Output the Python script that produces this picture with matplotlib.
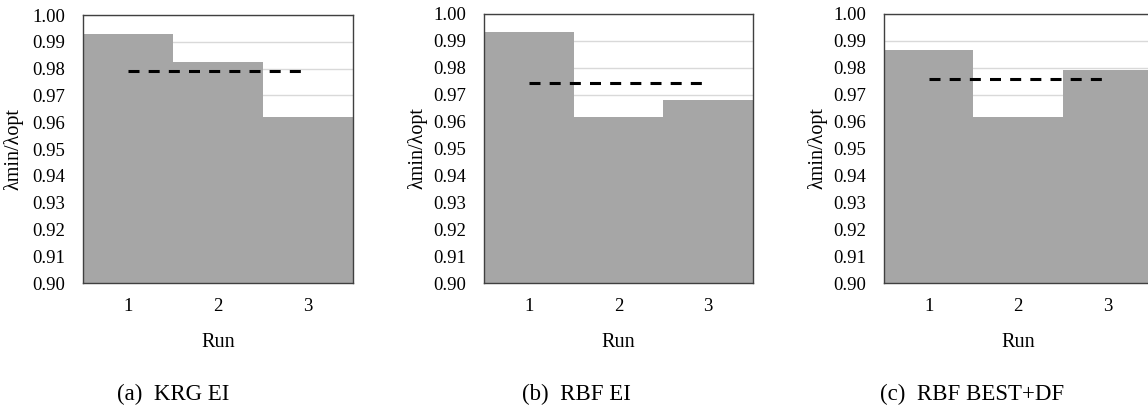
import matplotlib
matplotlib.use("Agg")
import matplotlib.pyplot as plt
import numpy as np

plt.rcParams['font.family'] = ['Liberation Serif', 'DejaVu Serif']

runs = ["1", "2", "3"]
krg_ei = [0.9928, 0.9826, 0.9620]
rbf_ei = [0.9934, 0.9616, 0.9680]
rbf_best_df = [0.9866, 0.9616, 0.9792]
series = [krg_ei, rbf_ei, rbf_best_df]
captions = ["(a)  KRG EI", "(b)  RBF EI", "(c)  RBF BEST+DF"]
yticks = [0.90, 0.91, 0.92, 0.93, 0.94, 0.95, 0.96, 0.97, 0.98, 0.99, 1.00]

W, H = 1148, 412
fig = plt.figure(figsize=(W / 100, H / 100), dpi=100)

# axes boxes in pixels: left, top, right, bottom
boxes = [(83, 15, 353, 283), (484, 14, 753, 283), (884, 14, 1152, 283)]
ylab_x = [24, 427, 827]
cap_x = [117, 522, 880]

for vals, box, yl, cx, cap in zip(series, boxes, ylab_x, cap_x, captions):
    l, t, r, b = box
    ax = fig.add_axes([l / W, 1 - b / H, (r - l) / W, (b - t) / H])
    x = np.arange(1, len(vals) + 1)
    ax.bar(x, np.array(vals) - 0.90, bottom=0.90, width=1.0, color="#a6a6a6", zorder=2)
    mean = np.mean(vals)
    ax.plot([x[0], x[-1]], [mean, mean], color="black", lw=2.2,
            linestyle=(0, (3.6, 3.0)), zorder=3)
    ax.set_xlim(0.5, 3.5)
    ax.set_ylim(0.90, 1.00)
    ax.set_yticks(yticks)
    ax.set_yticklabels([f"{v:.2f}" for v in yticks], fontsize=13.5)
    ax.set_xticks(x)
    ax.set_xticklabels(runs, fontsize=13.5)
    ax.tick_params(axis="both", length=0)
    ax.tick_params(axis="y", pad=13)
    ax.tick_params(axis="x", pad=11)
    ax.grid(axis="y", color="#d9d9d9", lw=1.0, zorder=1)
    for s in ax.spines.values():
        s.set_color("#404040")
        s.set_linewidth(1.0)
    ax.set_ylabel("λmin/λopt", fontsize=14.5)
    ax.yaxis.set_label_coords((yl - l) / (r - l), 0.5)
    ax.set_xlabel("Run", fontsize=14.5)
    ax.xaxis.set_label_coords(0.5, -(333 - b) / (b - t))
    fig.text(cx / W, 1 - 394 / H, cap, fontsize=16.5, ha="left", va="center")

fig.savefig("out.png", dpi=100)
